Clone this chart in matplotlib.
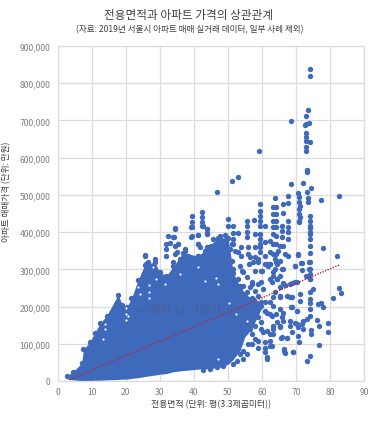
import matplotlib
matplotlib.use("Agg")
import matplotlib.pyplot as plt

plt.rcParams['font.family'] = ['Noto Sans CJK KR', 'DejaVu Sans']

# Solid part of the cloud, upper and lower edge
cloud_x = [2.7, 4.5, 7.1, 7.6, 9.5, 11, 12.5, 14.4, 17.8, 19, 20.3, 21.7, 23.7, 25.6, 28.6, 30, 32, 34, 36.9,
           41.3, 44.2, 47.2, 50.1, 51.6, 53.6, 55, 57, 59.9]
cloud_high = [14000, 25000, 48000, 85000, 105000, 130000, 155000, 175000, 232000, 205000, 198000, 222000, 272000,
              312000, 320000, 292000, 283000, 308000, 345000, 335000, 360000, 385000, 385000, 290000, 255000,
              235000, 222000, 212000]
cloud_low = [6000, 3000, 1000, 1000, 1000, 2000, 2000, 3000, 4000, 5000, 5000, 7000, 9000, 12000, 16000, 18000,
             20000, 25000, 28000, 32000, 33000, 36000, 45000, 58000, 82000, 118000, 140000, 195000]

# Separate dots around and outside the cloud
dots_x = [74.2, 74.2, 73.7, 73.1, 68.7, 73.1, 73.8, 72.7, 72.9, 72.9, 72.9, 74.1, 72.9, 72.9, 59.2, 73.3, 73.3,
          53.1, 51.2, 46.9, 68.7, 72.1, 74.3, 70.7, 73.4, 67.6, 63.9, 66.1, 67.6, 77.3, 82.6, 73.6, 73.6,
          71, 70.8, 71.2, 71, 70.8, 71.2, 71, 70.8,
          74, 74, 74, 74, 74, 74, 74.1, 74.1, 74.1, 74.1, 74.1, 74.1, 74.1, 82, 78,
          63.3, 63.3, 63.3, 63.3, 63.3, 65.8, 65.8, 67.6, 67.6, 67.6, 67.6, 65.8, 65.3, 63.3, 66.3, 64.8, 66.7,
          67.7, 63.3, 70.7, 71.6, 69.7, 64.3, 62.3, 61.4, 65.3, 66.2, 70.7,
          34.5, 34.2, 35.4, 35, 37.4, 39.4, 39.4, 39.4, 39.4, 42.5, 42.5, 42.5, 42.5, 41.3, 41.3, 43.9, 43.9, 43.8,
          45.7, 47.7, 49.1, 50.1, 50.1, 51.6, 51.6, 51.6, 51.6, 53.1, 53.1, 54, 55.5, 55.5, 55.5, 55.5, 56, 56,
          57.7, 58, 58, 58, 59.6, 59.6, 59.6, 59.6, 59.6, 59.6, 59.6, 59.6, 59.6, 60.9, 62.4,
          64.1, 64.1, 64.1, 64.1, 64.1, 64.1, 64.1,
          25.8, 28.6, 27, 26,
          63.4, 64.4, 66.3, 69.7, 71.7, 73.9, 73.9, 71.7, 73, 74.1, 75.1, 71.2, 71.2, 74, 74, 74, 74,
          76.6, 77.4, 78, 81, 82.8, 83.1, 68.8, 70.2, 74.1, 76.1, 79.4, 76.9, 79.4, 74.3, 74.3, 72.2, 70.7,
          67.3, 65.7, 71, 76.9, 66.6, 66.7, 69.2, 74.1, 73.2, 63.4, 62.4, 64.4, 66.3, 68.3, 69.7, 71.7, 70.7,
          68.8, 65.3, 63.4, 66.3, 62.9, 62.4, 65.3, 67.3, 68.8, 66.8, 68.8, 69.7, 63.9, 62.9, 64.4, 65.3,
          72.2, 73.2,
          61.4, 61.4, 60.9, 66.5, 69.2, 65.8, 67.3, 60.9, 62.9, 62.4, 60.4, 59, 57, 55.5, 54.6, 51.6, 46.7, 42.6,
          56.3, 59, 61.4, 64.8, 58, 60, 54.1, 57, 59.9, 62.4, 65.3, 60.4, 59, 57.5, 63.4, 65.3, 68.3, 68.3,
          70.2, 60.9, 62.4, 65.3, 68.7, 70.2, 59.9, 65.8, 68.3, 70.2, 63.4, 65.3, 57.5, 56.5, 58,
          51.1, 51.6, 53.6, 54.6, 53.1, 55.5, 57, 56.5, 54.6, 53.6, 58, 55.5, 59, 59.9, 61.9, 63.9, 63.4, 65.8,
          64.5, 66.1, 60.9, 59.9, 60.9, 61.4, 63.4, 64.3, 59, 59.9, 61.4, 58, 57, 59, 62.4, 60.9, 56, 54.6, 53.6,
          52.6, 48.7, 44.8,
          50.6, 52.1, 54, 56.5, 57.5, 58.9, 60.9, 62.4, 62.4, 63.8, 60.9, 59.4, 51.1, 49.1, 47.2, 45.2, 43.3,
          41.3, 38.4, 35.9,
          32.5, 34.4, 34, 32, 33, 34.4, 35.4, 32, 32, 34.4, 34, 39.3, 39.3, 41.3, 42.6, 44, 44, 41.3, 41.8, 37.4,
          25.6, 26.6]
dots_y = [839000, 819000, 729000, 711000, 699000, 690000, 693000, 688500, 666000, 655000, 645000, 643000, 628000,
          619000, 619000, 568000, 562000,
          549000, 538000, 508000, 528000, 531000, 518000, 505000, 507000, 498000, 492000, 476000, 478000, 486000,
          498000, 480000, 492000,
          494000, 480000, 470000, 462000, 450000, 440000, 430000, 426000,
          444000, 430000, 410000, 395000, 381000, 363000, 345000, 319000, 301000, 287000, 274000, 399000, 417000,
          336000, 357000,
          467000, 449000, 431000, 413000, 395000, 417000, 404000, 431000, 413000, 399000, 381000, 386000, 364000,
          368000, 362000, 350000, 341000,
          335000, 341000, 339000, 316000, 310000, 319000, 314000, 311000, 323000, 451000, 341000,
          410000, 386000, 368000, 346000, 350000, 389000, 413000, 426000, 442000, 453000, 440000, 426000, 417000,
          392000, 368000, 408000, 395000, 359000,
          381000, 390000, 392000, 435000, 417000, 417000, 398000, 381000, 368000, 398000, 346000, 359000, 429000,
          417000, 401000, 386000, 359000, 341000,
          433000, 395000, 359000, 332000, 475000, 458000, 444000, 431000, 417000, 395000, 381000, 368000, 346000,
          417000, 377000,
          467000, 449000, 431000, 413000, 390000, 368000, 341000,
          338000, 328000, 300000, 315000,
          292000, 314000, 301000, 310000, 317000, 319000, 301000, 298000, 283000, 274000, 247000, 234000, 215000,
          238000, 220000, 210000, 193000,
          207000, 209000, 200000, 222000, 251000, 237000, 198000, 187000, 175000, 164000, 155000, 147000, 131000,
          138000, 126000, 140000, 122000,
          115000, 115000, 104000, 97000, 86000, 75000, 77000, 66000, 55000, 126000, 95000, 158000, 162000, 162000,
          157000, 153000, 144000,
          132000, 144000, 149000, 184000, 175000, 211000, 225000, 229000, 225000, 258000, 263000, 265000, 238000,
          265000, 274000, 252000,
          162000, 167000,
          64000, 58000, 77000, 81000, 77000, 117000, 115000, 104000, 95000, 126000, 131000, 90000, 99000, 73000,
          59000, 46000, 37000, 29000,
          313000, 319000, 314000, 319000, 296000, 296000, 296000, 261000, 267000, 274000, 283000, 247000, 229000,
          220000, 225000, 229000, 225000, 261000,
          265000, 189000, 180000, 193000, 198000, 189000, 158000, 171000, 149000, 153000, 140000, 149000, 167000,
          140000, 113000,
          323000, 301000, 310000, 292000, 274000, 279000, 265000, 252000, 256000, 247000, 243000, 238000, 261000,
          296000, 310000, 301000, 283000, 301000,
          274000, 263000, 314000, 202000, 211000, 184000, 202000, 180000, 171000, 140000, 135000, 149000, 126000,
          108000, 108000, 90000, 99000, 81000, 72000,
          55000, 41000, 32000,
          355000, 350000, 337000, 332000, 319000, 328000, 337000, 346000, 314000, 328000, 373000, 359000, 368000,
          372000, 381000, 364000, 350000,
          337000, 337000, 328000,
          390000, 408000, 386000, 368000, 372000, 363000, 368000, 355000, 335000, 341000, 319000, 413000, 388000,
          392000, 417000, 408000, 397000, 368000, 359000, 355000,
          337000, 319000]

# Small white gaps left inside the cloud
gaps_x = [26.9, 26.9, 26.9, 20, 20, 20, 28.1, 46.5, 43.3, 29, 31.5, 23.7, 41.3, 24.2, 47.2, 35.9,
          13.4, 13.9, 13.9, 20.7, 50.5, 52.5, 47, 55.5]
gaps_y = [258000, 240000, 222000, 195000, 180000, 165000, 306000, 278000, 268000, 274000, 260000, 252000, 305000,
          234000, 260000, 287000,
          113000, 140000, 152000, 175000, 210000, 180000, 58000, 160000]

# Linear trend line ends
trend_x = [3.5, 83]
trend_y = [3400, 312700]

x_ticks = [0, 10, 20, 30, 40, 50, 60, 70, 80, 90]
y_ticks = [0, 100000, 200000, 300000, 400000, 500000, 600000, 700000, 800000, 900000]

fig = plt.figure(figsize=(3.8, 4.27), dpi=100)
ax = fig.add_axes([57.5 / 380, 1 - 382 / 427, 306.5 / 380, 335 / 427])

blue = "#3f69bb"
ax.fill_between(cloud_x, cloud_low, cloud_high, color=blue, linewidth=0, zorder=2)
ax.scatter(cloud_x, cloud_high, s=15, color=blue, linewidths=0, zorder=2)
ax.scatter(dots_x, dots_y, s=15, color=blue, linewidths=0, zorder=3)
ax.scatter(gaps_x, gaps_y, s=2.5, color="white", linewidths=0, zorder=3.5)
ax.plot(trend_x, trend_y, color="#b5283c", linewidth=1, linestyle=(0, (1, 1)), zorder=4)

ax.set_xlim(0, 90)
ax.set_ylim(0, 900000)
ax.set_xticks(x_ticks)
ax.set_yticks(y_ticks)
ax.set_yticklabels([f"{v:,}" for v in y_ticks])
ax.tick_params(length=0, labelsize=6.2, labelcolor="#808080")
ax.tick_params(axis="y", pad=5)
ax.tick_params(axis="x", pad=4)
ax.grid(True, color="#dcdcdc", linewidth=0.9)
ax.set_axisbelow(True)
for side in ax.spines:
    ax.spines[side].set_color("#dcdcdc")
    ax.spines[side].set_linewidth(0.9)

ax.text(22.7, 193000, "y = 3891.1x − 10231", fontsize=7, color="#4a5f94", va="center", zorder=5)

fig.text(189 / 380, 1 - 15 / 427, "전용면적과 아파트 가격의 상관관계", fontsize=8.4, color="#404040",
         ha="center", va="center")
fig.text(190 / 380, 1 - 30 / 427, "(자료: 2019년 서울시 아파트 매매 실거래 데이터, 일부 사례 제외)", fontsize=6.2,
         color="#404040", ha="center", va="center")
fig.text(211 / 380, 1 - 405 / 427, "전용면적 (단위: 평(3.3제곱미터))", fontsize=6.4, color="#404040",
         ha="center", va="center")
fig.text(7 / 380, 1 - 192 / 427, "아파트 매매가격 (단위: 만원)", fontsize=6.2, color="#404040", rotation=90,
         ha="center", va="center")

fig.savefig("out.png", dpi=100)
